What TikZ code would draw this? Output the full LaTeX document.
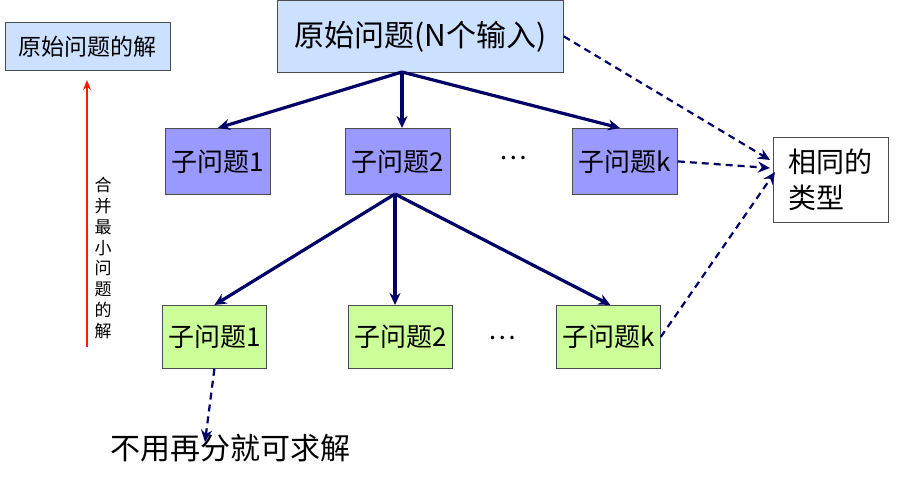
\documentclass[tikz,border=0pt]{standalone}
\usepackage{fontspec}
\setmainfont{Noto Sans CJK SC}
\usetikzlibrary{arrows.meta}
\definecolor{navy}{HTML}{000066}
\definecolor{lb}{HTML}{CCE0FF}
\definecolor{lav}{HTML}{9999FF}
\definecolor{lg}{HTML}{CCFF99}
\begin{document}
\begin{tikzpicture}[x=1pt,y=-1pt,
 box/.style={draw=black!70,line width=0.8pt,inner sep=0pt,anchor=north west},
 sol/.style={navy,line width=3.2pt,-{Stealth[length=12pt,width=11pt]}},
 dsh/.style={navy,line width=2.2pt,dash pattern=on 7pt off 5pt,-{Stealth[length=12pt,width=11pt]}}]
\useasboundingbox (0,0) rectangle (897,486);
\node[box,fill=lb,minimum width=165,minimum height=48,font=\fontsize{23}{26}\selectfont] (sol) at (5,22) {原始问题的解};
\node[box,fill=lb,minimum width=286,minimum height=72,font=\fontsize{30}{34}\selectfont] (root) at (277,0) {原始问题(N个输入)};
\foreach \n/\x/\t in {a1/165/1,a2/345/2,ak/572/k}
  \node[box,fill=lav,minimum width=105,minimum height=66,font=\fontsize{26}{30}\selectfont] (\n) at (\x,128) {子问题\t};
\foreach \n/\x/\t in {b1/162/1,b2/348/2,bk/556/k}
  \node[box,fill=lg,minimum width=104,minimum height=63,font=\fontsize{26}{30}\selectfont] (\n) at (\x,305) {子问题\t};
\node[font=\fontsize{26}{30}\selectfont] (d1) at (513,158) {…};
\node[font=\fontsize{26}{30}\selectfont] (d2) at (502,338) {…};
\node[box,fill=white,minimum width=115,minimum height=85,align=left,inner xsep=8pt,font=\fontsize{28}{36}\selectfont] (same) at (773,137) {相同的\\类型};
\coordinate (r1) at (87,347);
\coordinate (r2) at (87,80);
\draw[red!80!orange,line width=2pt,-{Stealth[length=10pt,width=8pt]}] (r1) -- (r2);
\node[align=center,font=\fontsize{17}{20.8}\selectfont] (vt) at (103,258) {合\\并\\最\\小\\问\\题\\的\\解};
\node[anchor=west,font=\fontsize{30}{34}\selectfont] (bt) at (107,448) {不用再分就可求解};
\coordinate (rb) at (402,72);
\draw[sol] (rb) -- (a1.north);
\draw[sol] (rb) -- (402,128);
\draw[sol] (rb) -- ([xshift=-5pt]ak.north);
\coordinate (mb) at (395,194);
\draw[sol] (mb) -- (b1.north);
\draw[sol] (mb) -- (395,305);
\draw[sol] (mb) -- ([xshift=2pt]bk.north);
\draw[dsh] (root.east) -- (770,160);
\draw[dsh] (ak.east) -- (770,168);
\draw[dsh] (bk.east) -- (775,172);
\coordinate (bte) at (205,442);
\draw[dsh] (b1.south) -- (bte);
\end{tikzpicture}
\end{document}
